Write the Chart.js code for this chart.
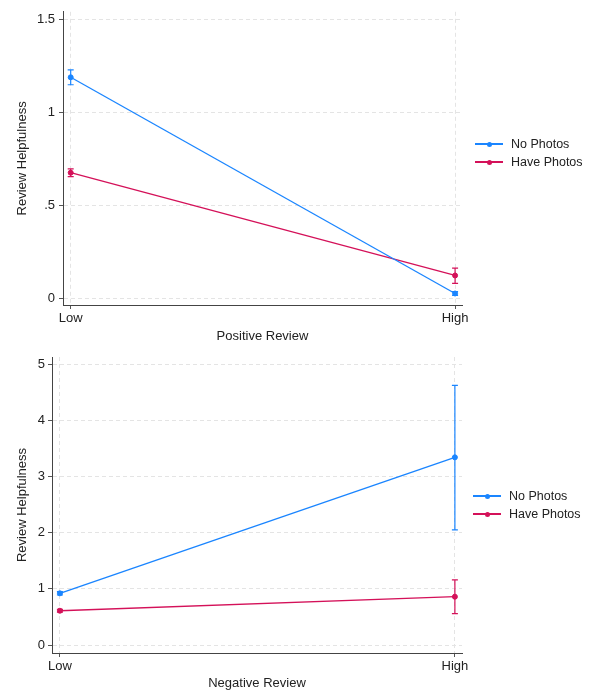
<!DOCTYPE html>
<html>
<head>
<meta charset="utf-8">
<script src="https://cdn.jsdelivr.net/npm/chart.js@4.4.1/dist/chart.umd.min.js"></script>
<style>
  body { margin: 0; background: #fff; font-family: "Liberation Sans", Arial, sans-serif; }
  #wrap { position: relative; width: 594px; height: 693px; }
  .panel { position: absolute; left: 0; width: 594px; }
  .legend { position: absolute; font-size: 12.5px; color: #222; }
  .item { position: relative; height: 18px; line-height: 18px; padding-left: 36px; white-space: nowrap; }
  .item .ln { position: absolute; left: 0; top: 8px; width: 28px; height: 1.5px; }
  .item .dot { position: absolute; left: 11.5px; top: 6.5px; width: 5px; height: 5px; border-radius: 50%; }
</style>
</head>
<body>
<div id="wrap">
  <div class="panel" style="top:0;height:346px"><canvas id="topChart" width="594" height="346"></canvas></div>
  <div class="panel" style="top:346px;height:347px"><canvas id="bottomChart" width="594" height="347"></canvas></div>
  <div class="legend" id="legendTop" style="left:475px;top:135px"></div>
  <div class="legend" id="legendBottom" style="left:473px;top:487px"></div>
</div>
<script>
// categories on the x axis
const categories = ["Low", "High"];
const seriesNames = ["No Photos", "Have Photos"];

// Positive Review panel
const posNoPhotos = [1.19, 0.025];
const posNoPhotosLo = [1.15, 0.015];
const posNoPhotosHi = [1.23, 0.035];
const posHavePhotos = [0.676, 0.122];
const posHavePhotosLo = [0.655, 0.08];
const posHavePhotosHi = [0.697, 0.162];
const posTicks = [0, 0.5, 1, 1.5];
const posTickLabels = ["0", ".5", "1", "1.5"];

// Negative Review panel
const negNoPhotos = [0.92, 3.34];
const negNoPhotosLo = [0.89, 2.05];
const negNoPhotosHi = [0.95, 4.62];
const negHavePhotos = [0.61, 0.86];
const negHavePhotosLo = [0.585, 0.56];
const negHavePhotosHi = [0.635, 1.16];
const negTicks = [0, 1, 2, 3, 4, 5];
const negTickLabels = ["0", "1", "2", "3", "4", "5"];

const blue = "#1a85ff";
const red = "#d41159";
const FONT = "'Liberation Sans', Arial, sans-serif";

// draws the confidence interval whiskers from the lo/hi arrays
const errorBars = {
  id: "errorBars",
  beforeDatasetsDraw(chart) {
    const ctx = chart.ctx;
    const xs = chart.scales.x, ys = chart.scales.y;
    chart.data.datasets.forEach(ds => {
      ctx.save();
      ctx.strokeStyle = ds.borderColor;
      ctx.lineWidth = 1.2;
      ds.data.forEach((p, i) => {
        const x = xs.getPixelForValue(p.x);
        const y1 = ys.getPixelForValue(ds.lo[i]);
        const y2 = ys.getPixelForValue(ds.hi[i]);
        ctx.beginPath();
        ctx.moveTo(x, y1); ctx.lineTo(x, y2);
        ctx.moveTo(x - 3, y1); ctx.lineTo(x + 3, y1);
        ctx.moveTo(x - 3, y2); ctx.lineTo(x + 3, y2);
        ctx.stroke();
      });
      ctx.restore();
    });
  }
};

function makeSet(label, values, lo, hi, color) {
  return {
    label: label,
    data: values.map((v, i) => ({ x: i, y: v })),
    lo: lo,
    hi: hi,
    borderColor: color,
    backgroundColor: color,
    borderWidth: 1.3,
    pointRadius: 2.5,
    pointBorderWidth: 1,
    pointHoverRadius: 2.5,
    tension: 0
  };
}

function makeChart(id, sets, opt) {
  return new Chart(document.getElementById(id), {
    type: "line",
    data: { datasets: sets },
    plugins: [errorBars],
    options: {
      responsive: false,
      animation: false,
      events: [],
      layout: { padding: { left: 0, right: 132, top: opt.top, bottom: 0 } },
      plugins: { legend: { display: false }, tooltip: { enabled: false } },
      scales: {
        x: {
          type: "linear",
          min: -0.02,
          max: 1.018,
          afterFit(scale) { scale.height = opt.xHeight; },
          afterBuildTicks(scale) { scale.ticks = categories.map((c, i) => ({ value: i })); },
          ticks: {
            padding: 2,
            color: "#222",
            font: { family: FONT, size: 13 },
            callback: (v) => categories[v]
          },
          grid: {
            color: "#e4e4e4",
            lineWidth: 1,
            tickLength: 4,
            tickColor: "#555",
            tickBorderDash: []
          },
          border: { color: "#444", width: 1, dash: [4, 3] },
          title: {
            display: true,
            text: opt.xTitle,
            color: "#222",
            font: { family: FONT, size: 13 },
            padding: { top: 0, bottom: 2 }
          }
        },
        y: {
          min: opt.yMin,
          max: opt.yMax,
          afterFit(scale) { scale.width = opt.yWidth; },
          afterBuildTicks(scale) { scale.ticks = opt.ticks.map(v => ({ value: v })); },
          ticks: {
            padding: opt.tickPad,
            color: "#222",
            font: { family: FONT, size: 13 },
            callback: (v) => opt.tickLabels[opt.ticks.indexOf(v)]
          },
          grid: {
            color: "#e4e4e4",
            lineWidth: 1,
            tickLength: 4,
            tickColor: "#555",
            tickBorderDash: []
          },
          border: { color: "#444", width: 1, dash: [4, 3] },
          title: {
            display: true,
            text: "Review Helpfulness",
            color: "#222",
            font: { family: FONT, size: 13 },
            padding: { top: 15, bottom: 0 }
          }
        }
      }
    }
  });
}

makeChart("topChart", [
  makeSet(seriesNames[0], posNoPhotos, posNoPhotosLo, posNoPhotosHi, blue),
  makeSet(seriesNames[1], posHavePhotos, posHavePhotosLo, posHavePhotosHi, red)
], {
  top: 8, xHeight: 41, yWidth: 63, tickPad: 4,
  yMin: -0.037, yMax: 1.543, ticks: posTicks, tickLabels: posTickLabels,
  xTitle: "Positive Review"
});

makeChart("bottomChart", [
  makeSet(seriesNames[0], negNoPhotos, negNoPhotosLo, negNoPhotosHi, blue),
  makeSet(seriesNames[1], negHavePhotos, negHavePhotosLo, negHavePhotosHi, red)
], {
  top: 11, xHeight: 40, yWidth: 52, tickPad: 3,
  yMin: -0.142, yMax: 5.125, ticks: negTicks, tickLabels: negTickLabels,
  xTitle: "Negative Review"
});

// html legends
function buildLegend(id) {
  const el = document.getElementById(id);
  [blue, red].forEach((c, i) => {
    const item = document.createElement("div");
    item.className = "item";
    item.innerHTML = '<span class="ln" style="background:' + c + '"></span>' +
      '<span class="dot" style="background:' + c + '"></span>' + seriesNames[i];
    el.appendChild(item);
  });
}
buildLegend("legendTop");
buildLegend("legendBottom");
</script>
</body>
</html>
